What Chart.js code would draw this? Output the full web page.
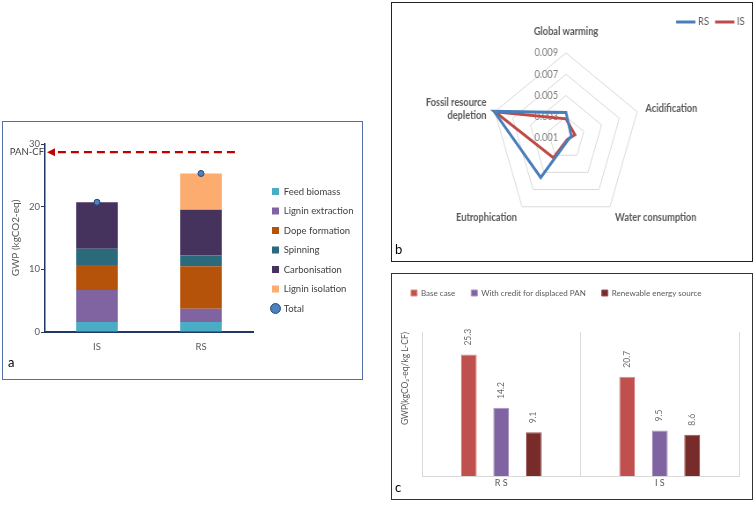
<!DOCTYPE html>
<html>
<head>
<meta charset="utf-8">
<script src="https://cdn.jsdelivr.net/npm/chart.js@4.4.1/dist/chart.umd.min.js"></script>
<style>
  html, body { margin: 0; padding: 0; background: #fff; overflow: hidden; }
  body { position: relative; width: 756px; height: 505px; font-family: Lato, "Open Sans", sans-serif; }
  .frame { position: absolute; box-sizing: border-box; }
  #frameA { left: 2px; top: 121px; width: 361px; height: 259px; border: 1px solid #4f6fa5; }
  #frameB { left: 391px; top: 2px; width: 362px; height: 260px; border: 1.5px solid #222; }
  #frameC { left: 391px; top: 273px; width: 362px; height: 227px; border: 1.5px solid #333; }
  .box { position: absolute; }
  #boxA { left: 2px; top: 121px; width: 361px; height: 259px; }
  #boxB { left: 346px; top: 2px; width: 440px; height: 260px; transform: scaleX(0.88); transform-origin: 50% 50%; }
  #boxC { left: 391px; top: 273px; width: 362px; height: 227px; }
  .tag { position: absolute; font-size: 13px; color: #000; line-height: 1; }
</style>
</head>
<body>
<div class="frame" id="frameA"></div>
<div class="frame" id="frameB"></div>
<div class="frame" id="frameC"></div>
<div class="box" id="boxA"><canvas id="chartA"></canvas></div>
<div class="box" id="boxB"><canvas id="chartB"></canvas></div>
<div class="box" id="boxC"><canvas id="chartC"></canvas></div>
<span class="tag" style="left:8px;top:356px;">a</span>
<span class="tag" style="left:395px;top:243px;">b</span>
<span class="tag" style="left:395px;top:481px;">c</span>

<script>
// ---- panel a: contribution by stage ----
const routeLabels = ["IS", "RS"];
const feedBiomass = [1.6, 1.6];
const ligninExtraction = [5.1, 2.1];
const dopeFormation = [4.0, 6.8];
const spinning = [2.6, 1.7];
const carbonisation = [7.4, 7.3];
const ligninIsolation = [0, 5.8];
const totalGwp = [20.7, 25.3];
const panCfGwp = 28.7;
const gwpTicks = [0, 10, 20, 30];

// ---- panel b: normalised impacts ----
const impactLabels = ["Global warming", "Acidification", "Water consumption", "Eutrophication", ["Fossil resource", "depletion"]];
const impactRS = [0.0034, 0.0016, 0.0013, 0.0056, 0.0091];
const impactIS = [0.0028, 0.0020, 0.0012, 0.0033, 0.0090];
const impactTicks = [0.001, 0.003, 0.005, 0.007, 0.009];

// ---- panel c: scenarios ----
const scenarioRoutes = ["R S", "I S"];
const baseCase = [25.3, 20.7];
const panCredit = [14.2, 9.5];
const renewableEnergy = [9.1, 8.6];

Chart.defaults.font.family = "Lato, 'Open Sans', sans-serif";
Chart.defaults.color = "#595959";
Chart.defaults.animation = false;

// resize / move the legend box after Chart.js has fitted it
const legendBox = (opts) => ({
  id: "legendBox",
  beforeInit(chart) {
    const fit = chart.legend.fit;
    chart.legend.fit = function () {
      fit.call(this);
      if (opts.width) this.width = opts.width;
      if (opts.extraHeight) this.height += opts.extraHeight;
    };
  },
  afterLayout(chart) {
    const lg = chart.legend;
    if (opts.dx) { lg.left += opts.dx; lg.right += opts.dx; }
    if (opts.dy) { lg.top += opts.dy; lg.bottom += opts.dy; }
  }
});

// dashed PAN-CF reference arrow
const panCfMarker = {
  id: "panCfMarker",
  afterDatasetsDraw(chart) {
    const { ctx, chartArea, scales } = chart;
    const y = scales.y.getPixelForValue(panCfGwp);
    const x0 = chartArea.left + 2;
    const x1 = chartArea.left + chartArea.width * 0.913;
    ctx.save();
    ctx.strokeStyle = "#c00000";
    ctx.lineWidth = 2.2;
    ctx.setLineDash([8, 5]);
    ctx.beginPath();
    ctx.moveTo(x1, y);
    ctx.lineTo(x0 + 7, y);
    ctx.stroke();
    ctx.setLineDash([]);
    ctx.fillStyle = "#c00000";
    ctx.beginPath();
    ctx.moveTo(x0, y);
    ctx.lineTo(x0 + 8, y - 4);
    ctx.lineTo(x0 + 8, y + 4);
    ctx.closePath();
    ctx.fill();
    ctx.font = "9.5px Lato, 'Open Sans', sans-serif";
    ctx.fillStyle = "#404040";
    ctx.textAlign = "right";
    ctx.textBaseline = "middle";
    ctx.fillText("PAN-CF", chartArea.left - 1, y);
    ctx.restore();
  }
};

new Chart(document.getElementById("chartA"), {
  type: "bar",
  data: {
    labels: routeLabels,
    datasets: [
      { label: "Feed biomass", data: feedBiomass, backgroundColor: "#4bacc6", pointStyle: "rect" },
      { label: "Lignin extraction", data: ligninExtraction, backgroundColor: "#8064a2", pointStyle: "rect" },
      { label: "Dope formation", data: dopeFormation, backgroundColor: "#b6530b", pointStyle: "rect" },
      { label: "Spinning", data: spinning, backgroundColor: "#2b6a7a", pointStyle: "rect" },
      { label: "Carbonisation", data: carbonisation, backgroundColor: "#45335d", pointStyle: "rect" },
      { label: "Lignin isolation", data: ligninIsolation, backgroundColor: "#fbac6e", pointStyle: "rect" },
      {
        type: "line", label: "Total", data: totalGwp, stack: "total", order: -1,
        showLine: false, pointStyle: "circle", pointRadius: 3,
        backgroundColor: "#4f81bd", borderColor: "#24467a", borderWidth: 1
      }
    ]
  },
  options: {
    responsive: true,
    maintainAspectRatio: false,
    layout: { padding: { top: 23, right: 0, bottom: 0, left: 0 } },
    datasets: { bar: { categoryPercentage: 1, barPercentage: 0.4 } },
    plugins: {
      legend: {
        position: "right",
        align: "center",
        fullSize: false,
        labels: {
          usePointStyle: true, boxWidth: 7, boxHeight: 7, padding: 10,
          color: "#404040", font: { size: 9.5 },
          sort: (a, b) => a.datasetIndex - b.datasetIndex
        }
      },
      tooltip: { enabled: false }
    },
    scales: {
      x: {
        stacked: true,
        grid: { display: false, drawTicks: false },
        border: { color: "#1f3864", width: 2 },
        ticks: { padding: 9, font: { size: 9.5 } },
        afterFit: (s) => { s.height = 48; }
      },
      y: {
        stacked: true,
        min: 0,
        max: 30,
        afterBuildTicks: (s) => { s.ticks = gwpTicks.map((v) => ({ value: v })); },
        ticks: { padding: 1, font: { size: 9.5 } },
        grid: { drawOnChartArea: false, tickLength: 4, color: "#1f3864" },
        border: { color: "#1f3864", width: 1.5 },
        title: { display: true, text: "GWP (kgCO2-eq)", font: { size: 10 }, padding: { top: 8, bottom: 0 } },
        afterFit: (s) => { s.width = 43; }
      }
    }
  },
  plugins: [panCfMarker, legendBox({ width: 110, dx: 9, dy: 12 })]
});

// radar texts: tick values left of the first spoke, axis names, legend
const radarText = {
  id: "radarText",
  beforeDatasetsDraw(chart) {
    const r = chart.scales.r;
    const ctx = chart.ctx;
    ctx.save();
    ctx.font = "10.5px Lato, 'Open Sans', sans-serif";
    ctx.fillStyle = "#7f7f7f";
    ctx.textAlign = "right";
    ctx.textBaseline = "middle";
    r.ticks.forEach((t) => {
      ctx.fillText(t.label, r.xCenter - 9, r.yCenter - r.getDistanceFromCenterForValue(t.value));
    });
    ctx.restore();
  },
  afterDraw(chart) {
    const r = chart.scales.r;
    const ctx = chart.ctx;
    ctx.save();
    ctx.font = "bold 10.5px Lato, 'Open Sans', sans-serif";
    ctx.fillStyle = "#595959";
    const lh = 13;
    chart.data.labels.forEach((lab, i) => {
      const lines = Array.isArray(lab) ? lab : [lab];
      const p = r.getPointPosition(i, r.drawingArea + 10);
      const dx = p.x - r.xCenter;
      const dy = p.y - r.yCenter;
      ctx.textAlign = Math.abs(dx) < 2 ? "center" : dx > 0 ? "left" : "right";
      let y;
      if (dy < -r.drawingArea) {
        ctx.textBaseline = "bottom";
        y = p.y - 6 - (lines.length - 1) * lh;
      } else if (dy > r.drawingArea * 0.5) {
        ctx.textBaseline = "top";
        y = p.y - 2;
      } else {
        ctx.textBaseline = "middle";
        y = p.y - (lines.length - 1) * lh / 2;
      }
      lines.forEach((ln, k) => ctx.fillText(ln, p.x, y + k * lh));
    });

    // legend, right aligned at the top
    ctx.font = "10.5px Lato, 'Open Sans', sans-serif";
    ctx.textAlign = "left";
    ctx.textBaseline = "middle";
    const lineLen = 22, gap = 3, itemGap = 7;
    const items = chart.data.datasets.map((ds) => ({ ds, w: lineLen + gap + ctx.measureText(ds.label).width }));
    const total = items.reduce((a, it) => a + it.w, 0) + itemGap * (items.length - 1);
    let x = chart.width - 17 - total;
    const y = 20;
    items.forEach((it) => {
      ctx.strokeStyle = it.ds.borderColor;
      ctx.lineWidth = 3;
      ctx.beginPath();
      ctx.moveTo(x, y);
      ctx.lineTo(x + lineLen, y);
      ctx.stroke();
      ctx.fillStyle = "#595959";
      ctx.fillText(it.ds.label, x + lineLen + gap, y);
      x += it.w + itemGap;
    });
    ctx.restore();
  }
};

new Chart(document.getElementById("chartB"), {
  type: "radar",
  data: {
    labels: impactLabels,
    datasets: [
      { label: "RS", data: impactRS, borderColor: "#4a7ebb", backgroundColor: "#4a7ebb", borderWidth: 3, pointRadius: 0, fill: false },
      { label: "IS", data: impactIS, borderColor: "#be4b48", backgroundColor: "#be4b48", borderWidth: 3, pointRadius: 0, fill: false }
    ]
  },
  options: {
    responsive: true,
    maintainAspectRatio: false,
    layout: { padding: { top: 51, right: 0, bottom: 39, left: 0 } },
    elements: { line: { tension: 0, borderJoinStyle: "miter" } },
    plugins: { legend: { display: false }, tooltip: { enabled: false } },
    scales: {
      r: {
        min: 0.001,
        max: 0.009,
        afterBuildTicks: (s) => { s.ticks = impactTicks.map((v) => ({ value: v })); },
        ticks: { display: false, callback: (v) => v.toFixed(3) },
        pointLabels: { display: false },
        angleLines: { display: false },
        grid: { color: "#d9d9d9", lineWidth: 1 }
      }
    }
  },
  plugins: [radarText]
});

// rotated value labels above the bars
const barValues = {
  id: "barValues",
  afterDatasetsDraw(chart) {
    const ctx = chart.ctx;
    ctx.save();
    ctx.font = "8.5px Lato, 'Open Sans', sans-serif";
    ctx.fillStyle = "#6f6f6f";
    ctx.textAlign = "left";
    ctx.textBaseline = "middle";
    chart.data.datasets.forEach((ds, i) => {
      chart.getDatasetMeta(i).data.forEach((bar, j) => {
        ctx.save();
        ctx.translate(bar.x, bar.y - 9);
        ctx.rotate(-Math.PI / 2);
        ctx.fillText(ds.data[j].toFixed(1), 0, 0);
        ctx.restore();
      });
    });
    ctx.restore();
  }
};

new Chart(document.getElementById("chartC"), {
  type: "bar",
  data: {
    labels: scenarioRoutes,
    datasets: [
      { label: "Base case", data: baseCase, backgroundColor: "#c0504d", borderColor: "#dc8a88", borderWidth: 1 },
      { label: "With credit for displaced PAN", data: panCredit, backgroundColor: "#8064a2", borderColor: "#a993c4", borderWidth: 1 },
      { label: "Renewable energy source", data: renewableEnergy, backgroundColor: "#772c2a", borderColor: "#9a5553", borderWidth: 1 }
    ]
  },
  options: {
    responsive: true,
    maintainAspectRatio: false,
    layout: { padding: { top: 0, right: 14, bottom: 0, left: 4 } },
    datasets: { bar: { categoryPercentage: 0.615, barPercentage: 0.49 } },
    plugins: {
      legend: {
        position: "top",
        align: "start",
        labels: { boxWidth: 6, boxHeight: 6, padding: 16, color: "#595959", font: { size: 8 } }
      },
      tooltip: { enabled: false }
    },
    scales: {
      x: {
        grid: { color: "#d9d9d9", drawTicks: false },
        border: { color: "#d9d9d9" },
        ticks: { padding: 2, font: { size: 9 } },
        afterFit: (s) => { s.height = 24; }
      },
      y: {
        min: 0,
        max: 30,
        ticks: { display: false },
        grid: { display: false },
        border: { display: false },
        title: { display: true, text: "GWP(kgCO\u2082-eq/kg L-CF)", align: "end", font: { size: 8.5 }, padding: { top: 5, bottom: 0 } },
        afterFit: (s) => { s.width = 27; }
      }
    }
  },
  plugins: [barValues, legendBox({ extraHeight: 25 })]
});
</script>
</body>
</html>
